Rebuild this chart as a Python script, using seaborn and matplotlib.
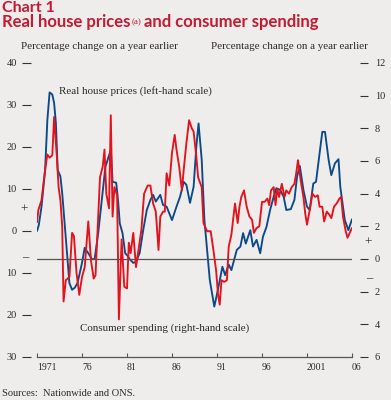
import matplotlib
matplotlib.use("Agg")
import matplotlib.pyplot as plt
import seaborn as sns

# Real house prices, % change on a year earlier (left-hand scale)
house_years = [1971.0, 1971.2, 1971.5, 1971.9, 1972.15, 1972.4, 1972.7, 1972.9, 1973.1, 1973.3,
               1973.6, 1973.8, 1974.1, 1974.4, 1974.6, 1974.9, 1975.2, 1975.5, 1976.0, 1976.3,
               1976.7, 1977.1, 1977.4, 1977.8, 1978.2, 1978.6, 1978.9, 1979.2, 1979.4, 1979.8,
               1980.0, 1980.2, 1980.5, 1980.8, 1981.1, 1981.3, 1981.7, 1982.0, 1982.4, 1982.8,
               1983.2, 1983.6, 1983.9, 1984.2, 1984.7, 1985.0, 1985.4, 1986.0, 1986.5, 1986.9,
               1987.3, 1987.6, 1988.0, 1988.4, 1988.7, 1988.95, 1989.3, 1989.6, 1989.9, 1990.2,
               1990.7, 1991.1, 1991.6, 1991.9, 1992.3, 1992.6, 1993.2, 1993.6, 1993.9, 1994.2,
               1994.7, 1995.0, 1995.4, 1995.8, 1996.1, 1996.5, 1996.9, 1997.3, 1997.6, 1998.0,
               1998.4, 1998.7, 1999.2, 1999.6, 1999.9, 2000.2, 2000.6, 2001.0, 2001.3, 2001.7,
               2002.0, 2002.4, 2002.7, 2003.0, 2003.4, 2003.7, 2004.1, 2004.5, 2004.7, 2005.2,
               2005.6, 2006.0]
house_growth = [0.0, 1.4, 5.8, 14.5, 26.4, 33.0, 32.5, 30.5, 25.7, 14.5,
                13.0, 9.0, 1.0, -7.0, -12.4, -14.0, -13.5, -12.4, -7.6, -4.0,
                -5.3, -6.7, -6.7, -0.5, 7.4, 15.3, 17.3, 19.3, 11.7, 11.5,
                7.4, 1.8, -0.5, -5.3, -6.0, -6.7, -7.6, -7.3, -5.3, 0.2,
                5.0, 7.4, 8.6, 7.0, 8.6, 6.2, 5.8, 2.6, 5.8, 8.2,
                11.7, 11.0, 6.7, 10.5, 20.0, 25.6, 17.0, 2.6, -4.5, -11.7,
                -18.0, -14.0, -8.5, -10.5, -8.0, -9.3, -4.5, -3.7, -0.5, -3.0,
                0.2, -3.7, -2.1, -5.3, -1.4, 1.0, 5.0, 8.2, 10.2, 9.8,
                8.2, 5.0, 5.2, 7.4, 13.0, 15.5, 9.8, 5.8, 5.0, 11.3,
                11.7, 18.5, 23.6, 23.6, 17.0, 13.3, 16.1, 17.1, 10.5, 2.6,
                0.2, 2.8]

# Consumer spending, % change on a year earlier (right-hand scale)
spend_years = [1971.0, 1971.15, 1971.5, 1971.9, 1972.15, 1972.4, 1972.7, 1972.9, 1973.2, 1973.4,
               1973.6, 1973.8, 1973.95, 1974.2, 1974.6, 1974.9, 1975.1, 1975.4, 1975.7, 1976.0,
               1976.3, 1976.7, 1977.0, 1977.3, 1977.5, 1977.8, 1978.0, 1978.3, 1978.5, 1978.7,
               1979.0, 1979.2, 1979.4, 1979.6, 1979.9, 1980.1, 1980.4, 1980.7, 1981.0, 1981.2,
               1981.4, 1981.7, 1982.0, 1982.25, 1982.6, 1982.9, 1983.3, 1983.6, 1983.9, 1984.2,
               1984.5, 1984.7, 1985.0, 1985.2, 1985.4, 1985.7, 1986.0, 1986.3, 1986.5, 1986.8,
               1987.1, 1987.3, 1987.6, 1987.9, 1988.2, 1988.4, 1988.7, 1988.9, 1989.3, 1989.5,
               1989.9, 1990.3, 1990.6, 1990.9, 1991.1, 1991.3, 1991.5, 1991.8, 1992.1, 1992.3,
               1992.6, 1993.0, 1993.3, 1993.5, 1993.7, 1994.0, 1994.3, 1994.6, 1994.9, 1995.1,
               1995.4, 1995.7, 1996.0, 1996.3, 1996.6, 1996.8, 1997.0, 1997.3, 1997.5, 1997.7,
               1997.9, 1998.2, 1998.5, 1998.7, 1999.0, 1999.3, 1999.6, 1999.8, 2000.0, 2000.3,
               2000.6, 2000.8, 2001.0, 2001.3, 2001.6, 2001.9, 2002.2, 2002.4, 2002.7, 2002.9,
               2003.2, 2003.5, 2003.7, 2004.0, 2004.3, 2004.6, 2004.8, 2005.0, 2005.3, 2005.5,
               2005.75, 2006.0]
spend_growth = [2.25, 3.0, 3.6, 5.45, 6.4, 6.2, 6.35, 8.7, 6.3, 4.4,
                3.6, 2.0, -2.6, -1.3, -1.1, 1.6, 1.4, -0.9, -2.2, -1.1,
                -0.5, 2.3, -0.1, -1.2, -1.0, 2.6, 5.0, 5.65, 6.7, 4.0,
                3.1, 8.8, 2.6, 4.4, 3.9, -3.7, 1.2, -1.7, -1.8, 1.0,
                0.35, 1.6, -0.5, 0.45, 1.8, 4.0, 4.5, 4.5, 3.4, 2.9,
                0.55, 2.6, 2.9, 2.9, 5.25, 4.5, 6.5, 7.6, 6.7, 5.65,
                4.2, 5.45, 7.1, 8.5, 8.0, 7.8, 6.3, 5.0, 4.4, 2.2,
                1.7, 1.7, 0.55, -0.7, -2.1, -2.8, -1.3, -1.4, -1.3, 0.75,
                1.5, 3.4, 2.2, 3.2, 3.8, 4.2, 3.2, 2.6, 2.4, 1.6,
                1.9, 2.0, 3.5, 3.5, 3.7, 3.3, 4.2, 4.4, 3.3, 4.3,
                3.8, 4.6, 3.8, 4.2, 4.0, 4.4, 4.6, 5.25, 6.05, 4.8,
                3.8, 2.8, 2.1, 3.0, 4.0, 3.8, 3.9, 3.2, 3.2, 2.3,
                2.9, 2.7, 2.5, 3.2, 3.4, 3.7, 3.8, 2.6, 1.7, 1.3,
                1.6, 1.9]

left_ticks = [40, 30, 20, 10, 0, -10, -20, -30]
right_ticks = [12, 10, 8, 6, 4, 2, 0, -2, -4, -6]
year_ticks = [1971, 1976, 1981, 1986, 1991, 1996, 2001, 2006]
year_labels = ['1971', '76', '81', '86', '91', '96', '2001', '06']

W, H = 391, 400
bg = '#eeedeb'
red_title = '#c41a32'
text_col = '#2a2a2a'

sns.set_theme(style='white')
plt.rcParams['font.family'] = ['Liberation Serif', 'DejaVu Serif']

fig = plt.figure(figsize=(W / 100, H / 100), dpi=100, facecolor=bg)
ax = fig.add_axes([37 / W, 1 - 357 / H, 315 / W, 294 / H])
ax.set_facecolor(bg)
ax2 = ax.twinx()

sns.lineplot(x=house_years, y=house_growth, ax=ax, color='#0b4a86', linewidth=1.35,
             estimator=None, sort=False)
sns.lineplot(x=spend_years, y=spend_growth, ax=ax2, color='#e3121c', linewidth=1.35,
             estimator=None, sort=False)
ax2.axhline(0, color='#555555', linewidth=0.9, zorder=0)

ax.set_xlim(1971, 2006)
ax.set_ylim(-30, 40)
ax2.set_ylim(-6, 12)

for a in (ax, ax2):
    for s in ('top', 'left', 'right'):
        a.spines[s].set_visible(False)
    a.set_xlabel('')
    a.set_ylabel('')
ax2.spines['bottom'].set_visible(False)
ax.spines['bottom'].set_color('#555555')
ax.spines['bottom'].set_linewidth(0.9)
ax.spines['left'].set_position(('outward', 4.5))
ax2.spines['right'].set_position(('outward', 6))

ax.set_xticks(year_ticks)
ax.set_xticklabels(year_labels)
for lbl in ax.get_xticklabels():
    lbl.set_horizontalalignment('left')
ax.tick_params(axis='x', bottom=True, direction='in', length=3, width=0.8,
               color='#555555', pad=4, labelsize=7, labelcolor=text_col)

ax.set_yticks(left_ticks)
ax.set_yticklabels([str(abs(v)) for v in left_ticks])
ax.tick_params(axis='y', left=True, direction='out', length=6.5, width=0.8,
               color='#333333', pad=3.5, labelsize=7.5, labelcolor=text_col)

ax2.set_yticks(right_ticks)
ax2.set_yticklabels([str(abs(v)) for v in right_ticks])
ax2.tick_params(axis='y', right=True, direction='out', length=5.5, width=0.8,
                color='#333333', pad=5, labelsize=7.5, labelcolor=text_col)


def px(x, y):
    return x / W, 1 - y / H


# Titles
fig.text(*px(2, 12), 'Chart 1', family=['Lato', 'DejaVu Sans'], weight='bold',
         size=11.5, color=red_title, va='baseline')
t1 = fig.text(*px(2, 27), 'Real house prices', family=['Lato', 'DejaVu Sans'],
              weight='bold', size=12, color=red_title, va='baseline')
t2 = fig.text(0, 0, '(a)', size=6.5, color=red_title, va='baseline')
fig.canvas.draw()
bb = t1.get_window_extent()
t2.set_position(((bb.x1 + 1) / W, px(0, 24)[1]))
bb2 = t2.get_window_extent()
fig.text((bb2.x1 + 3) / W, px(0, 27)[1], 'and consumer spending',
         family=['Lato', 'DejaVu Sans'], weight='bold', size=12,
         color=red_title, va='baseline')

fig.text(*px(21, 49), 'Percentage change on a year earlier', size=7.9,
         color=text_col, va='baseline')
fig.text(*px(211, 49), 'Percentage change on a year earlier', size=7.9,
         color=text_col, va='baseline')

# sign markers
fig.text(*px(24, 210), '+', size=9.5, color=text_col, ha='center', va='center')
fig.text(*px(25, 257), '\u2013', size=9, color=text_col, ha='center', va='center')
fig.text(*px(368, 243), '+', size=9.5, color=text_col, ha='center', va='center')
fig.text(*px(369, 278), '\u2013', size=9, color=text_col, ha='center', va='center')

# series labels
fig.text(*px(59, 91), 'Real house prices (left-hand scale)', size=7.9,
         color=text_col, va='center')
fig.text(*px(80, 328), 'Consumer spending (right-hand scale)', size=7.9,
         color=text_col, va='center')

fig.text(*px(2, 393), 'Sources:  Nationwide and ONS.', size=7.5,
         color=text_col, va='center')

fig.savefig('out.png', dpi=100, facecolor=bg)
